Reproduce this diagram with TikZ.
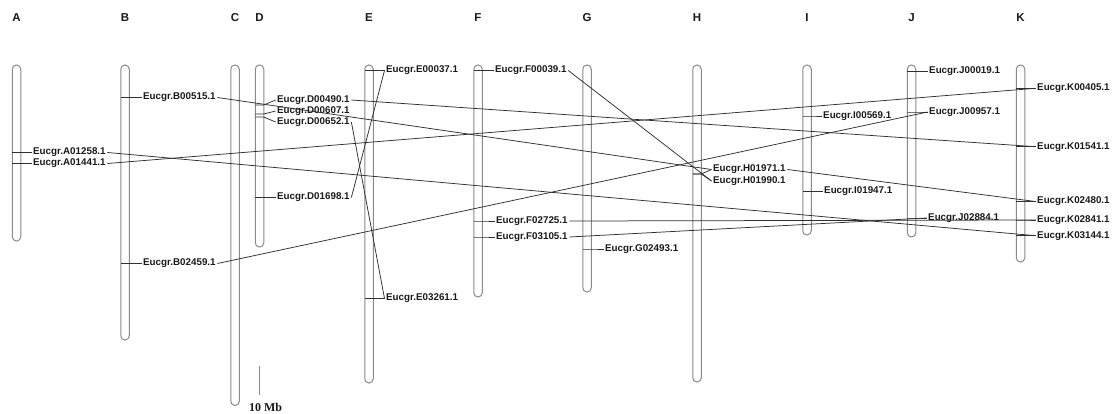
\documentclass[tikz,border=0pt]{standalone}
\usepackage{fontspec}
\setmainfont{Liberation Sans}
\newfontfamily\serifbf{Liberation Serif}
\definecolor{chromgray}{HTML}{8A8A8A}
\definecolor{linec}{HTML}{303030}
\definecolor{txt}{HTML}{1A1A1A}
\tikzset{
  chrom/.style={draw=chromgray, line width=1pt, rounded corners=4.2pt, minimum width=8.5pt, inner sep=0pt, outer sep=0pt},
  lab/.style={anchor=west, inner sep=1.5pt, font=\fontsize{9.8}{11}\selectfont\bfseries, text=txt},
  letter/.style={font=\fontsize{11.5}{13}\selectfont\bfseries, inner sep=0pt, text=txt},
  link/.style={draw=linec, line width=0.75pt},
}
% chromosome: name, x, top, bottom
\newcommand\chromo[4]{\node[chrom, minimum height=#4-#3] (#1) at (#2,{(#3+#4)/2}) {};}
% gene: chromosome, node name, tick y, label x, label y, text
\newcommand\gene[6]{%
  \node[lab] (#2) at (#4-1.5,#5) {Eucgr.#6};
  \draw[link] (#1.west |- 0,#3) -- (#1.east |- 0,#3) -- (#2.west);}
\begin{document}
\begin{tikzpicture}[x=1pt,y=-1pt]
\useasboundingbox (0,0) rectangle (1115,414);
\fill[white] (0,0) rectangle (1115,414);
% letters
\foreach \l/\x in {A/16.5,B/125,C/235,D/259.5,E/369,F/478,G/587,H/697,I/807,J/911.5,K/1020.5}
  \node[letter] (lt\l) at (\x,17.5) {\l};
% chromosomes
\chromo{cA}{16.5}{65}{241}
\chromo{cB}{125}{65}{340}
\chromo{cC}{235}{65}{405.5}
\chromo{cD}{259.5}{65}{247}
\chromo{cE}{369}{65}{383}
\chromo{cF}{478}{65}{297}
\chromo{cG}{587}{65}{292}
\chromo{cH}{697}{65}{382}
\chromo{cI}{807}{65}{235}
\chromo{cJ}{911.5}{65}{237}
\chromo{cK}{1020.5}{65}{262}
% genes
\gene{cA}{gA01258}{152.5}{33}{152.5}{A01258.1}
\gene{cA}{gA01441}{163.5}{33}{163.5}{A01441.1}
\gene{cB}{gB00515}{97.5}{143}{97.5}{B00515.1}
\gene{cB}{gB02459}{263.5}{143}{263.5}{B02459.1}
\gene{cD}{gD00490}{105}{277}{100}{D00490.1}
\gene{cD}{gD00607}{114}{277}{111}{D00607.1}
\gene{cD}{gD00652}{117}{277}{122}{D00652.1}
\gene{cD}{gD01698}{197.5}{277}{197.5}{D01698.1}
\gene{cE}{gE00037}{70.5}{386}{70.5}{E00037.1}
\gene{cE}{gE03261}{298.5}{386}{298.5}{E03261.1}
\gene{cF}{gF00039}{70.5}{495}{70.5}{F00039.1}
\gene{cF}{gF02725}{221}{496}{221}{F02725.1}
\gene{cF}{gF03105}{237}{496}{237}{F03105.1}
\gene{cG}{gG02493}{249}{605}{249}{G02493.1}
\gene{cH}{gH01971}{174}{713}{169.5}{H01971.1}
\gene{cH}{gH01990}{174}{713}{181}{H01990.1}
\gene{cI}{gI00569}{116}{823}{116}{I00569.1}
\gene{cI}{gI01947}{191.5}{824}{191.5}{I01947.1}
\gene{cJ}{gJ00019}{71.5}{929}{71.5}{J00019.1}
\gene{cJ}{gJ00957}{112}{929}{112}{J00957.1}
\gene{cJ}{gJ02884}{218}{928}{218}{J02884.1}
\gene{cK}{gK00405}{88.3}{1037}{88.3}{K00405.1}
\gene{cK}{gK01541}{146.7}{1037}{146.7}{K01541.1}
\gene{cK}{gK02480}{201.5}{1037}{201.5}{K02480.1}
\gene{cK}{gK02841}{220}{1037}{220}{K02841.1}
\gene{cK}{gK03144}{235.7}{1037}{235.7}{K03144.1}
% collinear links
\draw[link] (gA01258.east) -- (gK03144.west);
\draw[link] (gA01441.east) -- (gK00405.west);
\draw[link] (gB00515.east) -- (gH01971.west);
\draw[link] (gB02459.east) -- (gJ00957.west);
\draw[link] (gD00490.east) -- (gK01541.west);
\draw[link] (gD00652.east) -- (gE03261.west);
\draw[link] (gD01698.east) -- (gE00037.west);
\draw[link] (gF00039.east) -- (gH01990.west);
\draw[link] (gF02725.east) -- (gK02841.west);
\draw[link] (gF03105.east) -- (gJ02884.west);
\draw[link] (gH01971.east) -- (gK02480.west);
% scale bar
\coordinate (sbtop) at (259,366);
\coordinate (sbbot) at (259,395);
\draw[draw=chromgray, line width=1pt] (sbtop) -- (sbbot);
\node[font=\serifbf\fontsize{12}{14}\selectfont\bfseries, inner sep=0pt, text=txt] (sbl) at (265.5,407.5) {10 Mb};
\end{tikzpicture}
\end{document}
